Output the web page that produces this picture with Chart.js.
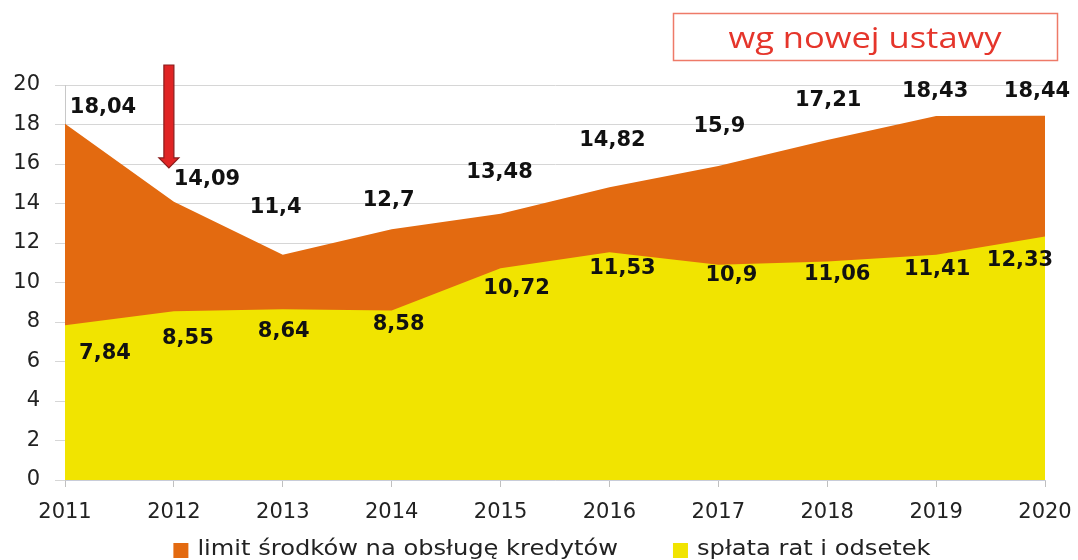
<!DOCTYPE html>
<html>
<head>
<meta charset="utf-8">
<script src="https://cdn.jsdelivr.net/npm/chart.js@4"></script>
<style>
  body { margin: 0; background: #fff; }
</style>
</head>
<body>
<canvas id="chart" width="1078" height="560"></canvas>
<script>
const years = ["2011", "2012", "2013", "2014", "2015", "2016", "2017", "2018", "2019", "2020"];
const limitValues = [18.04, 14.09, 11.4, 12.7, 13.48, 14.82, 15.9, 17.21, 18.43, 18.44];
const splataValues = [7.84, 8.55, 8.64, 8.58, 10.72, 11.53, 10.9, 11.06, 11.41, 12.33];
const yTicks = [0, 2, 4, 6, 8, 10, 12, 14, 16, 18, 20];
const limitLabel = "limit środków na obsługę kredytów";
const splataLabel = "spłata rat i odsetek";
const boxText = "wg nowej ustawy";

// where each value label sits relative to its point (px), as placed in the picture
const limitLabelShift = [[38, -16], [33, -22], [-7, -47], [-3, -29], [-1, -41], [3, -47], [1, -39], [1, -40], [-1, -24], [-8, -24]];
const splataLabelShift = [[40, 28], [14, 27], [1, 22], [7, 14], [16, 20], [13, 16], [13, 11], [10, 13], [1, 15], [-25, 24]];

const ORANGE = "#e36a10";
const YELLOW = "#f1e400";

const fmt = (v) => String(v).replace(".", ",");

const valueLabels = {
  id: "valueLabels",
  afterDatasetsDraw(chart) {
    const { ctx } = chart;
    ctx.save();
    ctx.font = "bold 21px 'DejaVu Sans'";
    ctx.fillStyle = "#111";
    ctx.textAlign = "center";
    ctx.textBaseline = "middle";
    [[0, splataLabelShift], [1, limitLabelShift]].forEach(([di, shift]) => {
      const meta = chart.getDatasetMeta(di);
      const data = chart.data.datasets[di].data;
      meta.data.forEach((pt, i) => {
        ctx.fillText(fmt(data[i]), pt.x + shift[i][0], pt.y + shift[i][1]);
      });
    });
    ctx.restore();
  },
};

// legend drawn by hand: orange item first, wide gap, text a bit stretched like the picture
const bottomLegend = {
  id: "bottomLegend",
  afterDraw(chart) {
    const { ctx } = chart;
    const stretch = 1.15;
    const gap = 55;
    const items = [chart.data.datasets[1], chart.data.datasets[0]];
    ctx.save();
    ctx.font = "21px 'DejaVu Sans'";
    ctx.textBaseline = "middle";
    const widths = items.map((d) => 24 + ctx.measureText(d.label).width * stretch);
    const total = widths.reduce((a, b) => a + b, 0) + gap;
    let x = 552 - total / 2;
    const y = 550;
    items.forEach((d, i) => {
      ctx.fillStyle = d.backgroundColor;
      ctx.fillRect(x, y - 7, 15, 15);
      ctx.save();
      ctx.translate(x + 24, y);
      ctx.scale(stretch, 1);
      ctx.fillStyle = "#222";
      ctx.fillText(d.label, 0, 0);
      ctx.restore();
      x += widths[i] + gap;
    });
    ctx.restore();
  },
};

const extras = {
  id: "extras",
  afterDraw(chart) {
    const { ctx, chartArea } = chart;
    const xs = chart.scales.x;
    const ys = chart.scales.y;
    ctx.save();

    // red arrow pointing at 2012
    const ax = xs.getPixelForValue(1) - 5;
    const top = chartArea.top - 20;
    const tip = ys.getPixelForValue(15.8);
    const headH = 10, headW = 10, shaftW = 5;
    ctx.beginPath();
    ctx.moveTo(ax - shaftW, top);
    ctx.lineTo(ax + shaftW, top);
    ctx.lineTo(ax + shaftW, tip - headH);
    ctx.lineTo(ax + headW, tip - headH);
    ctx.lineTo(ax, tip);
    ctx.lineTo(ax - headW, tip - headH);
    ctx.lineTo(ax - shaftW, tip - headH);
    ctx.closePath();
    ctx.fillStyle = "#e02424";
    ctx.fill();
    ctx.strokeStyle = "#8a1c1c";
    ctx.lineWidth = 1.2;
    ctx.stroke();

    // "wg nowej ustawy" box
    ctx.strokeStyle = "#ee7a68";
    ctx.lineWidth = 1.5;
    ctx.strokeRect(673.5, 13.5, 384, 47);
    ctx.fillStyle = "#e5352b";
    ctx.font = "30px 'Open Sans'";
    ctx.textAlign = "center";
    ctx.textBaseline = "middle";
    ctx.translate(865, 39);
    ctx.scale(1.15, 1);
    ctx.fillText(boxText, 0, 0);
    ctx.restore();
  },
};

Chart.defaults.font.family = "'DejaVu Sans'";
Chart.defaults.color = "#222";

new Chart(document.getElementById("chart").getContext("2d"), {
  type: "line",
  data: {
    labels: years,
    datasets: [
      {
        label: splataLabel,
        data: splataValues,
        backgroundColor: YELLOW,
        borderColor: YELLOW,
        borderWidth: 0,
        pointRadius: 0,
        tension: 0,
        fill: "origin",
      },
      {
        label: limitLabel,
        data: limitValues,
        backgroundColor: ORANGE,
        borderColor: ORANGE,
        borderWidth: 0,
        pointRadius: 0,
        tension: 0,
        fill: "origin",
      },
    ],
  },
  options: {
    responsive: false,
    animation: false,
    events: [],
    layout: { padding: { top: 85, right: 33, left: 0, bottom: 0 } },
    scales: {
      x: {
        offset: false,
        grid: { drawOnChartArea: false, drawTicks: true, tickLength: 7, color: "#c0c0c0" },
        border: { color: "#c8ccd8" },
        ticks: { font: { size: 21 }, color: "#222", padding: 13, maxRotation: 0, autoSkip: false },
        afterFit: (s) => { s.height = 80; s.paddingLeft = 0; s.paddingRight = 0; },
      },
      y: {
        min: 0,
        max: 20,
        afterBuildTicks: (s) => { s.ticks = yTicks.map((v) => ({ value: v })); },
        grid: { color: "#d6d6d6", tickLength: 10 },
        border: { color: "#c8c8c8" },
        ticks: { font: { size: 21 }, color: "#222", padding: 15 },
        afterFit: (s) => { s.width = 65; },
      },
    },
    plugins: {
      tooltip: { enabled: false },
      legend: { display: false },
    },
  },
  plugins: [valueLabels, bottomLegend, extras],
});
</script>
</body>
</html>
